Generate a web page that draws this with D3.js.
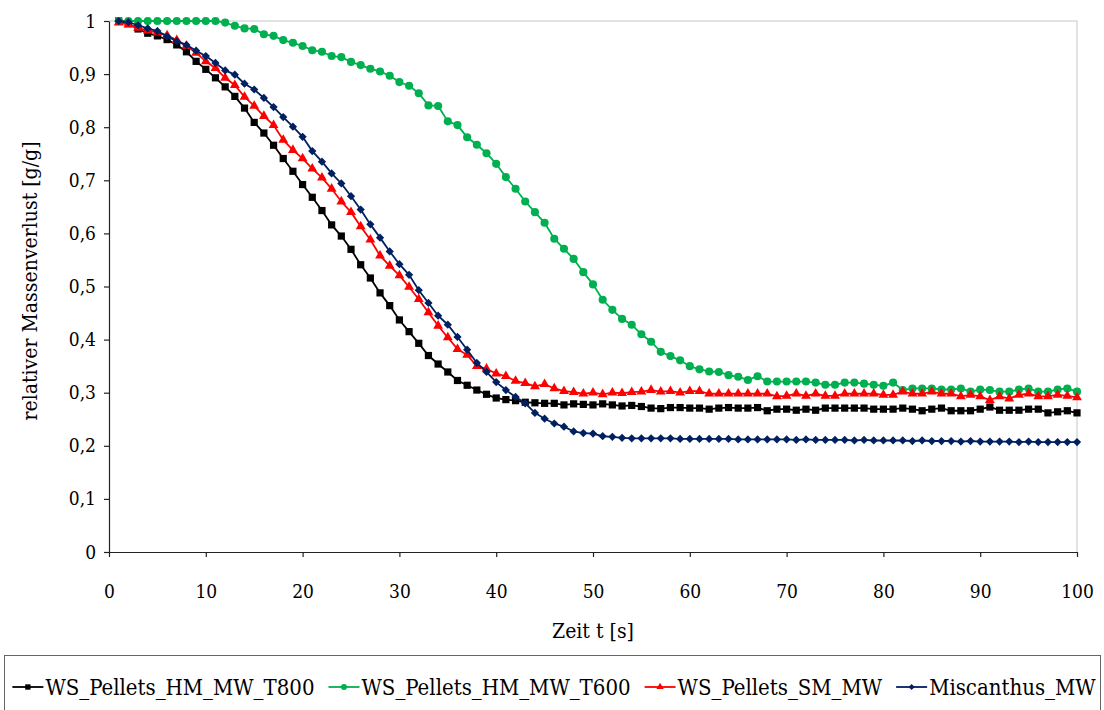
<!DOCTYPE html>
<html>
<head>
<meta charset="utf-8">
<script src="https://cdn.jsdelivr.net/npm/d3@7"></script>
<style>
  body { margin: 0; background: #fff; }
  svg text { font-family: 'DejaVu Serif Condensed', 'DejaVu Serif', serif; font-stretch: condensed; fill: #000; }
</style>
</head>
<body>
<svg id="chart" width="1104" height="710"></svg>
<script>
// Sampling times in seconds (one reading per second)
const zeit = d3.range(1, 101);

const seriesNames = ["WS_Pellets_HM_MW_T800", "WS_Pellets_HM_MW_T600", "WS_Pellets_SM_MW", "Miscanthus_MW"];

const t800 = [
  1.000,0.995,0.985,0.977,0.972,0.965,0.955,0.942,0.924,0.909,
  0.893,0.876,0.858,0.836,0.809,0.789,0.766,0.741,0.717,0.692,
  0.668,0.643,0.616,0.595,0.570,0.541,0.516,0.488,0.464,0.437,
  0.415,0.393,0.370,0.354,0.339,0.323,0.314,0.305,0.297,0.290,
  0.287,0.285,0.282,0.281,0.280,0.280,0.277,0.279,0.278,0.277,
  0.279,0.277,0.275,0.276,0.274,0.271,0.270,0.272,0.272,0.271,
  0.271,0.269,0.271,0.272,0.271,0.271,0.272,0.266,0.269,0.269,
  0.267,0.269,0.267,0.271,0.271,0.271,0.271,0.271,0.269,0.269,
  0.269,0.271,0.269,0.266,0.269,0.271,0.266,0.266,0.266,0.269,
  0.273,0.267,0.267,0.267,0.269,0.269,0.262,0.264,0.266,0.262
];

const t600 = [
  1.000,1.000,1.000,1.000,1.000,1.000,1.000,1.000,1.000,1.000,
  1.000,0.997,0.991,0.986,0.985,0.975,0.972,0.964,0.959,0.953,
  0.945,0.942,0.934,0.932,0.923,0.917,0.910,0.905,0.897,0.885,
  0.878,0.864,0.841,0.840,0.811,0.804,0.781,0.767,0.751,0.731,
  0.706,0.684,0.660,0.640,0.620,0.590,0.571,0.552,0.527,0.504,
  0.475,0.456,0.439,0.428,0.410,0.396,0.377,0.369,0.361,0.350,
  0.344,0.340,0.339,0.333,0.330,0.324,0.331,0.321,0.321,0.321,
  0.321,0.321,0.319,0.315,0.315,0.319,0.319,0.317,0.315,0.313,
  0.319,0.305,0.308,0.308,0.308,0.306,0.306,0.308,0.302,0.306,
  0.305,0.302,0.302,0.306,0.308,0.302,0.302,0.306,0.308,0.302
];

const smMW = [
  0.997,0.993,0.987,0.982,0.978,0.973,0.964,0.953,0.940,0.924,
  0.911,0.893,0.879,0.857,0.840,0.821,0.804,0.776,0.757,0.741,
  0.722,0.705,0.684,0.660,0.640,0.613,0.588,0.558,0.539,0.521,
  0.499,0.476,0.451,0.426,0.404,0.382,0.371,0.350,0.345,0.336,
  0.331,0.322,0.318,0.312,0.316,0.308,0.303,0.301,0.298,0.300,
  0.297,0.300,0.299,0.301,0.302,0.305,0.302,0.303,0.300,0.303,
  0.303,0.298,0.298,0.298,0.298,0.298,0.298,0.298,0.293,0.294,
  0.298,0.294,0.298,0.294,0.294,0.298,0.298,0.298,0.298,0.296,
  0.296,0.302,0.298,0.298,0.302,0.298,0.298,0.293,0.296,0.293,
  0.286,0.293,0.289,0.296,0.298,0.293,0.293,0.296,0.294,0.291
];

const miscanthus = [
  1.000,0.998,0.992,0.986,0.981,0.971,0.962,0.955,0.944,0.934,
  0.921,0.907,0.899,0.882,0.871,0.855,0.838,0.819,0.801,0.782,
  0.755,0.735,0.713,0.694,0.670,0.645,0.617,0.592,0.566,0.542,
  0.522,0.493,0.469,0.445,0.428,0.405,0.381,0.356,0.339,0.320,
  0.305,0.292,0.280,0.262,0.251,0.242,0.236,0.227,0.224,0.223,
  0.218,0.217,0.215,0.214,0.214,0.214,0.214,0.214,0.213,0.213,
  0.213,0.213,0.213,0.213,0.212,0.212,0.212,0.212,0.212,0.212,
  0.211,0.212,0.211,0.211,0.211,0.211,0.210,0.211,0.210,0.210,
  0.210,0.210,0.209,0.210,0.209,0.209,0.209,0.208,0.209,0.208,
  0.208,0.208,0.208,0.207,0.208,0.207,0.207,0.207,0.207,0.207
];

const xTicks = [0, 10, 20, 30, 40, 50, 60, 70, 80, 90, 100];
const yTicks = [0, 0.1, 0.2, 0.3, 0.4, 0.5, 0.6, 0.7, 0.8, 0.9, 1];
const yTickLabels = ["0", "0,1", "0,2", "0,3", "0,4", "0,5", "0,6", "0,7", "0,8", "0,9", "1"];
const xTitle = "Zeit t [s]";
const yTitle = "relativer Massenverlust [g/g]";

const seriesValues = [t800, t600, smMW, miscanthus];
const seriesColors = ["#000000", "#00b050", "#ff0000", "#002060"];

const svg = d3.select("#chart");
svg.append("rect").attr("width", 1104).attr("height", 710).attr("fill", "#fff");

const plot = { left: 109, right: 1077, top: 21, bottom: 552 };
const x = d3.scaleLinear().domain([0, 100]).range([plot.left, plot.right]);
const y = d3.scaleLinear().domain([0, 1]).range([plot.bottom, plot.top]);

// plot area outline (top and right edges)
svg.append("path")
  .attr("d", `M${plot.left},${plot.top}H${plot.right}V${plot.bottom}`)
  .attr("fill", "none").attr("stroke", "#d9d9d9").attr("stroke-width", 1.5);

// axes
const yAxis = svg.append("g")
  .attr("transform", `translate(${plot.left},0)`)
  .call(d3.axisLeft(y).tickValues(yTicks).tickSize(5).tickSizeOuter(0).tickPadding(8)
    .tickFormat((d, i) => yTickLabels[i]));
const xAxis = svg.append("g")
  .attr("transform", `translate(0,${plot.bottom})`)
  .call(d3.axisBottom(x).tickValues(xTicks).tickSize(5).tickSizeOuter(0).tickPadding(28));

[yAxis, xAxis].forEach(g => {
  g.selectAll("path.domain").attr("stroke", "#222").attr("stroke-width", 1.2);
  g.selectAll(".tick line").attr("stroke", "#222").attr("stroke-width", 1.2);
  g.selectAll("text").attr("font-size", 19).attr("fill", "#000")
    .style("font-family", "'DejaVu Serif Condensed', 'DejaVu Serif', serif");
});

// axis titles
svg.append("text")
  .attr("x", (plot.left + plot.right) / 2 + 0).attr("y", 638)
  .attr("text-anchor", "middle").attr("font-size", 21)
  .text(xTitle);
svg.append("text")
  .attr("transform", "translate(37,281) rotate(-90)")
  .attr("text-anchor", "middle").attr("font-size", 21)
  .text(yTitle);

// marker shapes per series
const symbols = [
  { type: d3.symbolSquare, size: 52, rot: 0 },
  { type: d3.symbolCircle, size: 52, rot: 0 },
  { type: d3.symbolTriangle, size: 42, rot: 0 },
  { type: d3.symbolSquare, size: 34, rot: 45 }
];

const line = d3.line().x(d => x(d[0])).y(d => y(d[1]));

seriesValues.forEach((vals, si) => {
  const pts = zeit.map((t, i) => [t, vals[i]]);
  const g = svg.append("g");
  g.append("path").datum(pts)
    .attr("d", line).attr("fill", "none")
    .attr("stroke", seriesColors[si]).attr("stroke-width", 1.8);
  const sym = d3.symbol().type(symbols[si].type).size(symbols[si].size);
  g.selectAll("path.m").data(pts).join("path")
    .attr("class", "m")
    .attr("d", sym)
    .attr("transform", d => `translate(${x(d[0])},${y(d[1])}) rotate(${symbols[si].rot})`)
    .attr("fill", seriesColors[si]);
});

// legend
svg.append("rect")
  .attr("x", 4.5).attr("y", 655.5).attr("width", 1096).attr("height", 60)
  .attr("fill", "#fff").attr("stroke", "#666").attr("stroke-width", 1);

const legend = svg.append("g");
const items = seriesNames.map((name, si) => {
  const g = legend.append("g");
  g.append("line").attr("x1", 0).attr("x2", 31).attr("y1", 0).attr("y2", 0)
    .attr("stroke", seriesColors[si]).attr("stroke-width", 1.8);
  const sym = d3.symbol().type(symbols[si].type).size(symbols[si].size * 0.55);
  g.append("path").attr("d", sym)
    .attr("transform", `translate(15.5,0) rotate(${symbols[si].rot})`)
    .attr("fill", seriesColors[si]);
  const txt = g.append("text").attr("x", 33).attr("y", 0).attr("dy", "0.35em")
    .attr("font-size", 22).text(name);
  return { g, w: 33 + txt.node().getComputedTextLength() };
});
const gap = 14;
const total = d3.sum(items, d => d.w) + gap * (items.length - 1);
let cx = 554 - total / 2;
items.forEach(it => {
  it.g.attr("transform", `translate(${cx},687)`);
  cx += it.w + gap;
});
</script>
</body>
</html>
